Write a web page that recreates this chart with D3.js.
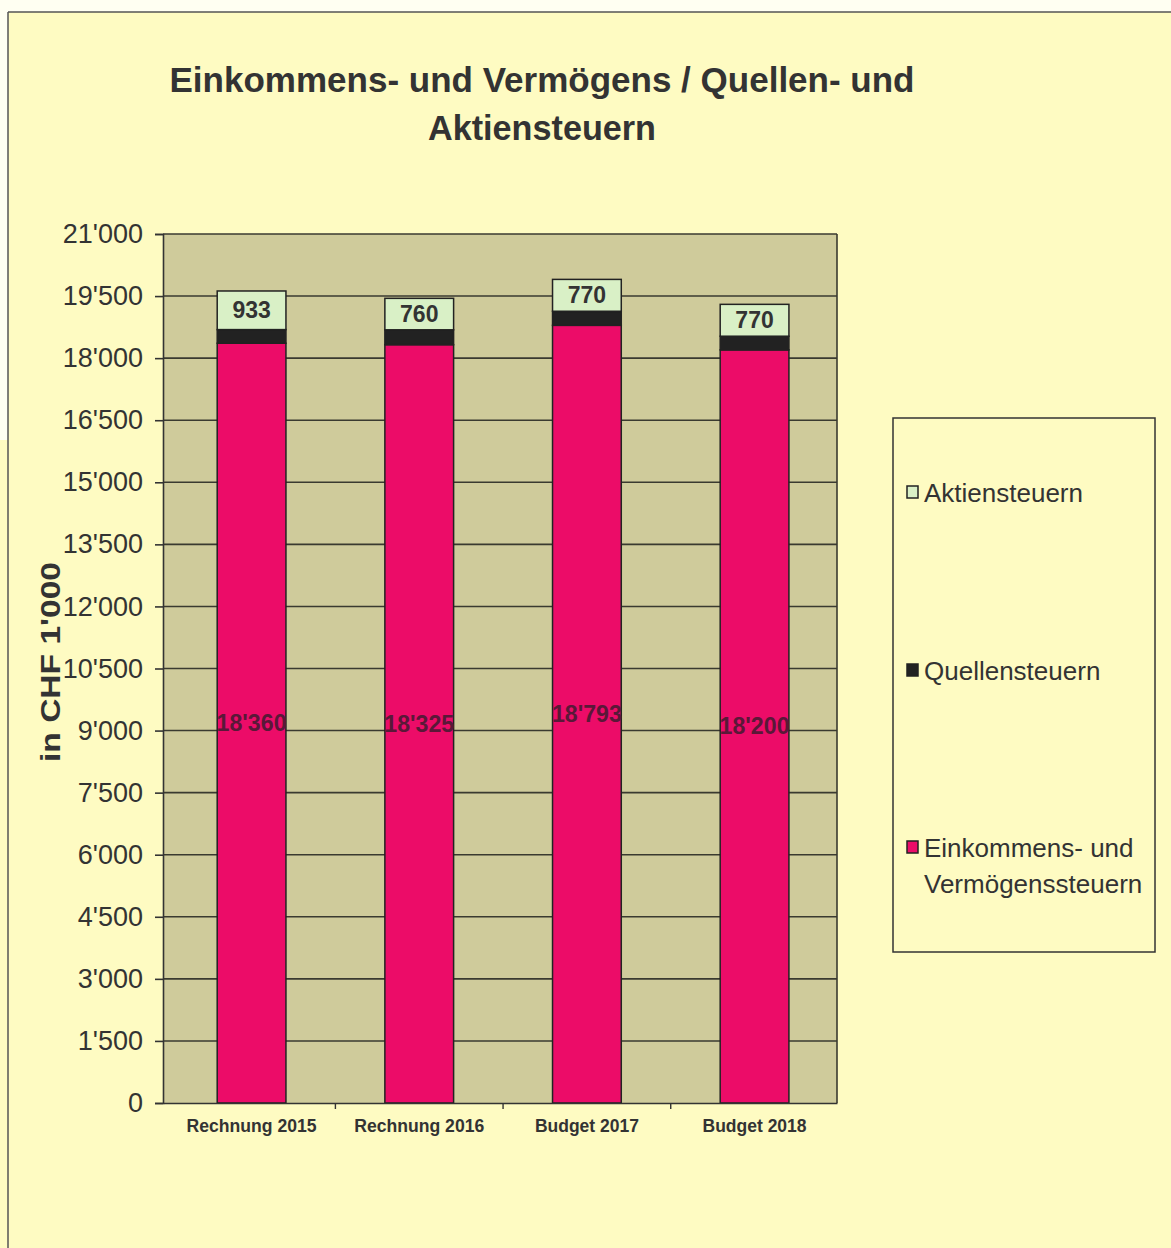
<!DOCTYPE html>
<html>
<head>
<meta charset="utf-8">
<script src="https://d3js.org/d3.v7.min.js"></script>
<style>
  html, body { margin: 0; padding: 0; background: #fefbc2; }
  svg { display: block; }
</style>
</head>
<body>
<div id="chart"></div>
<script>
// data
var categories = ["Rechnung 2015", "Rechnung 2016", "Budget 2017", "Budget 2018"];
var einkommen = [18360, 18325, 18793, 18200];
var quellen = [330, 360, 340, 330];
var aktien = [933, 760, 770, 770];
var seriesKeys = ["einkommen", "quellen", "aktien"];
var seriesColors = ["#ec0c68", "#222222", "#d9f0c6"];
var legendLabels = [["Aktiensteuern"], ["Quellensteuern"], ["Einkommens- und", "Vermögenssteuern"]];
var yTickValues = [0, 1500, 3000, 4500, 6000, 7500, 9000, 10500, 12000, 13500, 15000, 16500, 18000, 19500, 21000];
var titleLines = ["Einkommens- und Vermögens / Quellen- und", "Aktiensteuern"];

var W = 1171, H = 1248;
var plot = {left: 163, right: 837, top: 234, bottom: 1103};
var ink = "#333";

var fmt = d3.formatLocale({decimal: ".", thousands: "'", grouping: [3], currency: ["", ""]}).format(",d");

var svg = d3.select("#chart").append("svg")
    .attr("width", W).attr("height", H)
    .style("font-family", "'Liberation Sans', Arial, sans-serif");

// page frame
svg.append("rect").attr("x", 0).attr("y", 0).attr("width", W).attr("height", 12).attr("fill", "#fffff2");
svg.append("rect").attr("x", 0).attr("y", 0).attr("width", 8).attr("height", 440).attr("fill", "#fffff2");
svg.append("line").attr("x1", 8).attr("x2", W).attr("y1", 12).attr("y2", 12)
    .attr("stroke", "#555").attr("stroke-width", 1.5);
svg.append("line").attr("x1", 8).attr("x2", 8).attr("y1", 12).attr("y2", H)
    .attr("stroke", "#555").attr("stroke-width", 1.5);

// title
svg.append("g").selectAll("text").data(titleLines).enter().append("text")
    .attr("x", 542).attr("y", function(d, i) { return 92 + i * 48; })
    .attr("text-anchor", "middle")
    .attr("font-size", 35).attr("font-weight", "bold").attr("fill", ink)
    .attr("textLength", function(d, i) { return i === 0 ? 745 : 228; })
    .attr("lengthAdjust", "spacingAndGlyphs")
    .text(function(d) { return d; });

var x = d3.scaleBand().domain(categories).range([plot.left, plot.right])
    .paddingInner(0.59).paddingOuter(0.305).align(0.53);
var y = d3.scaleLinear().domain([0, 21000]).range([plot.bottom, plot.top]);

// plot area
svg.append("rect").attr("x", plot.left).attr("y", plot.top)
    .attr("width", plot.right - plot.left).attr("height", plot.bottom - plot.top)
    .attr("fill", "#cfcb9b");

// gridlines
svg.append("g").selectAll("line").data(yTickValues.slice(1)).enter().append("line")
    .attr("x1", plot.left).attr("x2", plot.right)
    .attr("y1", function(d) { return y(d); }).attr("y2", function(d) { return y(d); })
    .attr("stroke", "#3a3a30").attr("stroke-width", 1.6);

svg.append("line").attr("x1", plot.right).attr("x2", plot.right)
    .attr("y1", plot.top).attr("y2", plot.bottom).attr("stroke", "#3a3a30").attr("stroke-width", 1.6);

// stacked bars
var rows = categories.map(function(c, i) {
  return {cat: c, einkommen: einkommen[i], quellen: quellen[i], aktien: aktien[i]};
});
var stacked = d3.stack().keys(seriesKeys)(rows);

var layers = svg.append("g").selectAll("g").data(stacked).enter().append("g")
    .attr("fill", function(d, i) { return seriesColors[i]; });

layers.selectAll("rect").data(function(d) { return d; }).enter().append("rect")
    .attr("x", function(d) { return x(d.data.cat); })
    .attr("width", x.bandwidth())
    .attr("y", function(d) { return y(d[1]); })
    .attr("height", function(d) { return y(d[0]) - y(d[1]); })
    .attr("stroke", "#222").attr("stroke-width", 1.5);

// value labels
svg.append("g").selectAll("text").data(stacked[0]).enter().append("text")
    .attr("x", function(d) { return x(d.data.cat) + x.bandwidth() / 2; })
    .attr("y", function(d) { return y((d[0] + d[1]) / 2) + 8; })
    .attr("text-anchor", "middle").attr("font-size", 23).attr("font-weight", "bold")
    .attr("fill", "#5a1838")
    .attr("textLength", 70).attr("lengthAdjust", "spacingAndGlyphs")
    .text(function(d) { return fmt(d.data.einkommen); });

svg.append("g").selectAll("text").data(stacked[2]).enter().append("text")
    .attr("x", function(d) { return x(d.data.cat) + x.bandwidth() / 2; })
    .attr("y", function(d) { return y((d[0] + d[1]) / 2) + 8; })
    .attr("text-anchor", "middle").attr("font-size", 23).attr("font-weight", "bold")
    .attr("fill", ink)
    .text(function(d) { return fmt(d.data.aktien); });

// y axis
var yAxis = svg.append("g").attr("transform", "translate(" + plot.left + ",0)")
    .call(d3.axisLeft(y).tickValues(yTickValues).tickSize(8).tickPadding(12).tickFormat(fmt));
yAxis.select(".domain").attr("stroke", ink).attr("stroke-width", 1.6);
yAxis.selectAll(".tick line").attr("stroke", ink).attr("stroke-width", 1.6);
yAxis.selectAll(".tick text").attr("font-size", 27).attr("fill", ink)
    .attr("font-family", "'Liberation Sans', Arial, sans-serif");

// x axis
var xAxis = svg.append("g").attr("transform", "translate(0," + plot.bottom + ")")
    .call(d3.axisBottom(x).tickSize(0).tickPadding(16));
xAxis.select(".domain").attr("stroke", ink).attr("stroke-width", 1.6);
xAxis.selectAll(".tick text").attr("font-size", 18).attr("font-weight", "bold").attr("fill", ink)
    .attr("font-family", "'Liberation Sans', Arial, sans-serif")
    .attr("textLength", function(d) { return d.indexOf("Rechnung") === 0 ? 130 : 104; })
    .attr("lengthAdjust", "spacingAndGlyphs");
// category separators
var step = x.step();
svg.append("g").selectAll("line").data(categories.slice(1)).enter().append("line")
    .attr("x1", function(d) { return x(d) - (step - x.bandwidth()) / 2; })
    .attr("x2", function(d) { return x(d) - (step - x.bandwidth()) / 2; })
    .attr("y1", plot.bottom).attr("y2", plot.bottom + 6)
    .attr("stroke", ink).attr("stroke-width", 1.4);

// y axis title
svg.append("text")
    .attr("transform", "translate(60,662) rotate(-90)")
    .attr("text-anchor", "middle").attr("font-size", 28).attr("font-weight", "bold").attr("fill", ink)
    .attr("textLength", 200).attr("lengthAdjust", "spacingAndGlyphs")
    .text("in CHF 1'000");

// legend
var legend = svg.append("g").attr("transform", "translate(893,418)");
legend.append("rect").attr("width", 262).attr("height", 534)
    .attr("fill", "none").attr("stroke", ink).attr("stroke-width", 1.5);
var legendColors = [seriesColors[2], seriesColors[1], seriesColors[0]];
var legendY = [84, 262, 439];
var items = legend.selectAll("g.item").data(legendLabels).enter().append("g")
    .attr("transform", function(d, i) { return "translate(0," + legendY[i] + ")"; });
items.append("rect").attr("x", 14).attr("y", -16).attr("width", 11).attr("height", 12)
    .attr("fill", function(d, i) { return legendColors[i]; })
    .attr("stroke", "#222").attr("stroke-width", 1.5);
items.each(function(lines) {
  var g = d3.select(this);
  lines.forEach(function(t, j) {
    g.append("text").attr("x", 31).attr("y", j * 36)
      .attr("font-size", 26).attr("fill", ink).text(t);
  });
});
</script>
</body>
</html>
